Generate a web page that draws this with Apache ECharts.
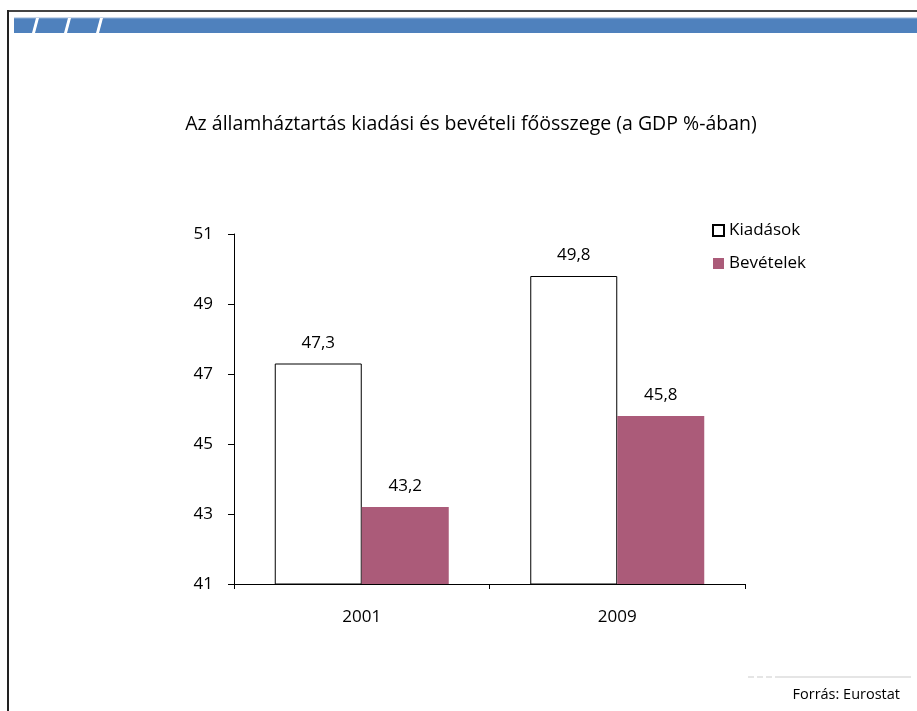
<!DOCTYPE html>
<html><head><meta charset="utf-8">
<script src="https://cdn.jsdelivr.net/npm/echarts@6/dist/echarts.min.js"></script>
<style>html,body{margin:0;padding:0;background:#fff}#c{width:917px;height:711px}</style>
</head><body><div id="c"></div>
<script>
const categories = ['2001', '2009'];
const kiadasok = [47.3, 49.8];
const bevetelek = [43.2, 45.8];
const seriesNames = ['Kiadások', 'Bevételek'];
const titleText = 'Az államháztartás kiadási és bevételi főösszege (a GDP %-ában)';
const sourceText = 'Forrás: Eurostat';

const FONT = '"Open Sans", "Noto Sans", sans-serif';
const fmt = p => String(p.value).replace('.', ',');
const chart = echarts.init(document.getElementById('c'));
chart.setOption({
  animation: false,
  textStyle: { fontFamily: FONT },
  title: {
    text: titleText, left: 471, top: 114, textAlign: 'center', padding: 0,
    textStyle: { fontSize: 19.5, fontWeight: 'normal', color: '#000', fontFamily: FONT }
  },
  legend: {
    orient: 'vertical', left: 712, top: 222, padding: 0, itemWidth: 11, itemHeight: 11, itemGap: 16,
    icon: 'rect',
    textStyle: { fontSize: 17, lineHeight: 11, color: '#000', fontFamily: FONT, padding: 0 },
    data: seriesNames
  },
  grid: { left: 234, right: 172, top: 234, bottom: 127 },
  xAxis: {
    type: 'category', data: categories,
    axisLine: { lineStyle: { color: '#000', width: 1 } },
    axisTick: { show: true, length: 5, lineStyle: { color: '#000' } },
    axisLabel: { color: '#000', fontSize: 17, margin: 25, fontFamily: FONT }
  },
  yAxis: {
    type: 'value', min: 41, max: 51, interval: 2,
    splitLine: { show: false },
    axisLine: { show: true, lineStyle: { color: '#000', width: 1 } },
    axisTick: { show: true, length: 6, lineStyle: { color: '#000' } },
    axisLabel: { color: '#000', fontSize: 17, margin: 21, fontFamily: FONT }
  },
  series: [
    {
      name: seriesNames[0], type: 'bar', data: kiadasok, barWidth: 87, barGap: '0%',
      itemStyle: { color: '#fff', borderColor: '#000', borderWidth: 1 },
      label: { show: true, position: 'top', distance: 12, formatter: fmt, color: '#000', fontSize: 17, fontFamily: FONT }
    },
    {
      name: seriesNames[1], type: 'bar', data: bevetelek, barWidth: 87,
      itemStyle: { color: '#AB5B79' },
      label: { show: true, position: 'top', distance: 12, formatter: fmt, color: '#000', fontSize: 17, fontFamily: FONT }
    }
  ],
  graphic: [
    { type: 'line', shape: { x1: 8, y1: 11, x2: 917, y2: 11 }, style: { stroke: '#444', lineWidth: 2 } },
    { type: 'line', shape: { x1: 8, y1: 10, x2: 8, y2: 711 }, style: { stroke: '#222', lineWidth: 2 } },
    { type: 'rect', shape: { x: 14, y: 18, width: 903, height: 15 }, style: { fill: '#4F81BD' } },
    { type: 'line', shape: { x1: 14, y1: 18, x2: 917, y2: 18 }, style: { stroke: '#95B3D7', lineWidth: 1 } },
    { type: 'polygon', shape: { points: [[36, 18], [39, 18], [35, 33], [32, 33]] }, style: { fill: '#fff' } },
    { type: 'polygon', shape: { points: [[68, 18], [71, 18], [67, 33], [64, 33]] }, style: { fill: '#fff' } },
    { type: 'polygon', shape: { points: [[100, 18], [103, 18], [99, 33], [96, 33]] }, style: { fill: '#fff' } },
    { type: 'line', shape: { x1: 748, y1: 677, x2: 778, y2: 677 }, style: { stroke: '#ddd', lineWidth: 1.5, lineDash: [6, 3] } },
    { type: 'line', shape: { x1: 778, y1: 677, x2: 911, y2: 677 }, style: { stroke: '#ddd', lineWidth: 1.5 } },
    { type: 'text', x: 900, y: 687, style: { text: sourceText, textAlign: 'right', fill: '#000', fontSize: 14.5, fontFamily: FONT } }
  ]
});
</script></body></html>
